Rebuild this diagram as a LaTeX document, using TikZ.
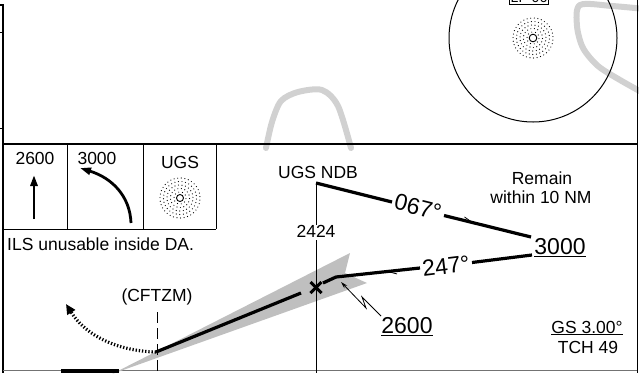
\documentclass[tikz,border=0pt]{standalone}
\usepackage{fontspec}
\setmainfont{Liberation Sans}
\usetikzlibrary{arrows.meta,decorations.markings,calc}
\tikzset{
  graytrk/.style={draw=black!18,line width=6pt,line cap=round,line join=round},
  frameln/.style={draw=black,line width=1.6pt},
  thinln/.style={draw=black,line width=0.9pt},
  crs/.style={draw=black,line width=3.2pt},
  smalltxt/.style={font=\fontsize{17.5}{19}\selectfont,inner sep=0pt},
  bigtxt/.style={font=\fontsize{23}{26}\selectfont,inner sep=0pt},
  midharp/.style={postaction={decorate},decoration={markings,mark=at position #1 with {\arrow{Straight Barb[left,length=9pt,width=7pt,line width=0.8pt]}}}},
}
\newcommand{\stipple}[1]{%
  \foreach \rr in {6,9.5,13,16.5,20}{%
    \pgfmathtruncatemacro{\nn}{round(2*pi*\rr/3.6)}%
    \foreach \k in {1,...,\nn}{%
      \fill ($(#1)+({360*\k/\nn+\rr*7}:\rr)$) circle (0.6pt);
    }%
  }%
}
\begin{document}
\begin{tikzpicture}[x=1pt,y=-1pt]
\useasboundingbox (0,0) rectangle (639,373);
% gray background tracks
\draw[graytrk] plot[smooth] coordinates {(266,148) (272,122) (281,101) (298,92) (322,90) (338,106) (351,148)};
\draw[graytrk] plot[smooth] coordinates {(645,9) (612,6) (580,5) (577,26) (583,48) (598,66) (620,80) (645,94)};
% frame
\coordinate (tl) at (3,5); \coordinate (bl) at (3,373);
\draw[frameln] (0,5) -- (tl) -- (bl);
\draw[thinln] (0,32) -- (3,32);
\draw[thinln] (0,128) -- (3,128);
\coordinate (ml) at (3,144); \coordinate (mr) at (637,144);
\draw[frameln] (ml) -- (mr);
\coordinate (rt) at (637,0); \coordinate (rb) at (637,373);
\draw[thinln] (rt) -- (rb);
\coordinate (bbl) at (3,370.5); \coordinate (bbr) at (637,370.5);
\draw[draw=black!55,line width=1.2pt] (bbl) -- (bbr);
% top facility circle
\coordinate (fac) at (533,38);
\draw[line width=1pt] (fac) circle (84);
\draw[line width=0.9pt] (fac) circle (3.8);
\stipple{fac}
\node[draw,line width=1pt,inner sep=1.5pt,anchor=south,font=\fontsize{14}{16}\selectfont] (lpbox) at (529,4.5) {LP 06};
% legend boxes
\coordinate (b0) at (67,144); \coordinate (b0b) at (67,229);
\coordinate (b1) at (143,144); \coordinate (b1b) at (143,229);
\coordinate (b2) at (216,144); \coordinate (b2b) at (216,229);
\coordinate (bl2) at (3,229);
\draw[thinln] (b0) -- (b0b); \draw[thinln] (b1) -- (b1b); \draw[thinln] (b2) -- (b2b);
\draw[thinln] (bl2) -- (b2b);
\node[smalltxt] (l2600) at (35,158) {2600};
\coordinate (a1s) at (34,219); \coordinate (a1e) at (34,175);
\draw[line width=2.8pt,-{Triangle[length=11pt,width=7pt]}] (a1s) -- (a1e);
\node[smalltxt] (l3000) at (97,158) {3000};
\coordinate (a2s) at (131,223); \coordinate (a2e) at (80,168);
\draw[line width=2.8pt,-{Triangle[length=11pt,width=7pt]}] (a2s) .. controls (130,196) and (112,178) .. (a2e);
\node[smalltxt] (lugs) at (180,162) {UGS};
\coordinate (ugsleg) at (180,198);
\draw[line width=0.9pt] (ugsleg) circle (3.5);
\stipple{ugsleg}
\node[smalltxt,anchor=west] (ils) at (7,244) {ILS unusable inside DA.};
% localizer wedge
\fill[black!25] (112,374) -- (350,253) -- (345,273) -- (367,283) -- cycle;
% NDB vertical
\node[smalltxt] (ndb) at (318,172.5) {UGS NDB};
\node[smalltxt] (alt2424) at (316,231) {2424};
\coordinate (ndbpt) at (316,183); \coordinate (vbot) at (316,373);
\draw[thinln] (ndbpt) -- (alt2424.north);
\draw[thinln] (alt2424.south) ++(0,3) -- (vbot);
% outbound 067
\node[bigtxt,rotate=-14] (c067) at (418,207) {067°};
\coordinate (o1) at (392,202); \coordinate (o2) at (444,215.5); \coordinate (hold) at (531,237);
\draw[crs] (ndbpt) -- (o1);
\draw[crs,midharp=0.35] (o2) -- (hold);
\node[bigtxt] (h3000) at (560,248) {\underline{3000}};
% inbound 247
\node[bigtxt,rotate=7] (c247) at (446,266) {247°};
\coordinate (i1) at (532,255); \coordinate (i2) at (472,262.5); \coordinate (i3) at (420,268);
\coordinate (bend) at (336,277); \coordinate (xin) at (323,283);
\draw[crs] (i1) -- (i2);
\draw[crs,midharp=0.35,line join=round] (i3) -- (bend) -- (xin);
% fix X
\coordinate (fx) at (316,287.5);
\draw[line width=3pt] ($(fx)+(-5.5,-5.5)$) -- ($(fx)+(5.5,5.5)$);
\draw[line width=3pt] ($(fx)+(-5.5,5.5)$) -- ($(fx)+(5.5,-5.5)$);
% final approach
\coordinate (da) at (156,352); \coordinate (fe) at (301,293);
\draw[crs] (da) -- (fe);
% CFTZM
\node[smalltxt] (cftzm) at (157,296.5) {(CFTZM)};
\coordinate (cfbot) at (157,373); \coordinate (cftop) at (157,312);
\draw[thinln,dash pattern=on 11pt off 5pt] (cftop) -- (cfbot);
% missed approach
\coordinate (mae) at (66,304);
\draw[line width=3.2pt,dash pattern=on 1.3pt off 1.9pt,-{Triangle[length=10pt,width=9pt]}] (da) .. controls (118,351) and (86,336) .. (mae);
% runway
\fill (61,369) rectangle (119,373);
% 2600 altitude with lightning
\node[bigtxt] (a2600) at (407,327) {\underline{2600}};
\coordinate (lz0) at (381,316); \coordinate (lz1) at (362,297); \coordinate (lz2) at (366,308); \coordinate (lzend) at (341,282);
\draw[line width=0.8pt,-{Stealth[length=7pt,width=4pt]}] (lz0) -- (lz1) -- (lz2) -- (lzend);
% remarks
\node[smalltxt] (rem1) at (542,178) {Remain};
\node[smalltxt] (rem2) at (541,197) {within 10 NM};
\node[smalltxt] (gs) at (587,328) {\underline{GS 3.00°}};
\node[smalltxt] (tch) at (588,347) {TCH 49};
\end{tikzpicture}
\end{document}
